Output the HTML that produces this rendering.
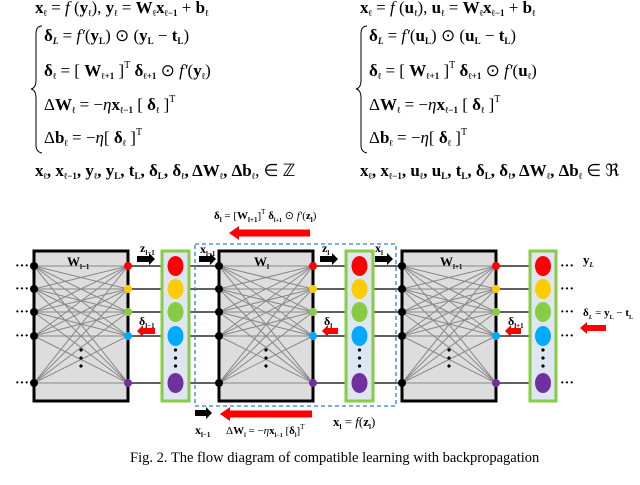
<!DOCTYPE html>
<html><head><meta charset="utf-8"><style>
body{margin:0;background:#fff;width:640px;height:485px;overflow:hidden}
svg{display:block}
text{font-family:"Liberation Serif",serif}
.eq{font-size:17px;font-weight:bold}
.sm{font-size:9px}
</style></head><body>
<svg id="s" width="640" height="485" xmlns="http://www.w3.org/2000/svg">
<g class="eq">
<text x="35" y="13">x<tspan class="sm" dy="3">ℓ</tspan><tspan dy="-3" font-weight="normal"> = <tspan font-style="italic">f</tspan> (</tspan>y<tspan class="sm" dy="3">ℓ</tspan><tspan dy="-3" font-weight="normal">), </tspan>y<tspan class="sm" dy="3">ℓ</tspan><tspan dy="-3" font-weight="normal"> = </tspan>W<tspan class="sm" dy="3">ℓ</tspan><tspan dy="-3">x</tspan><tspan class="sm" dy="3">ℓ−1</tspan><tspan dy="-3" font-weight="normal"> + </tspan>b<tspan class="sm" dy="3">ℓ</tspan></text>
<text x="44" y="41">δ<tspan class="sm" dy="3" font-style="italic">L</tspan><tspan dy="-3" font-weight="normal"> = <tspan font-style="italic">f′</tspan>(</tspan>y<tspan class="sm" dy="3">L</tspan><tspan dy="-3" font-weight="normal">) ⊙ (</tspan>y<tspan class="sm" dy="3">L</tspan><tspan dy="-3" font-weight="normal"> − </tspan>t<tspan class="sm" dy="3">L</tspan><tspan dy="-3" font-weight="normal">)</tspan></text>
<text x="44" y="76">δ<tspan class="sm" dy="3">ℓ</tspan><tspan dy="-3" font-weight="normal"> = [ </tspan>W<tspan class="sm" dy="3">ℓ+1</tspan><tspan dy="-3" font-weight="normal"> ]<tspan font-size="10" dy="-8">T</tspan></tspan><tspan dy="8"> δ</tspan><tspan class="sm" dy="3">ℓ+1</tspan><tspan dy="-3" font-weight="normal"> ⊙ <tspan font-style="italic">f′</tspan>(</tspan>y<tspan class="sm" dy="3">ℓ</tspan><tspan dy="-3" font-weight="normal">)</tspan></text>
<text x="44" y="110"><tspan font-weight="normal">Δ</tspan>W<tspan class="sm" dy="3">ℓ</tspan><tspan dy="-3" font-weight="normal"> = −<tspan font-style="italic">η</tspan></tspan>x<tspan class="sm" dy="3">ℓ−1</tspan><tspan dy="-3" font-weight="normal"> [ </tspan>δ<tspan class="sm" dy="3">ℓ</tspan><tspan dy="-3" font-weight="normal"> ]<tspan font-size="10" dy="-8">T</tspan></tspan></text>
<text x="44" y="143"><tspan font-weight="normal">Δ</tspan>b<tspan class="sm" dy="3">ℓ</tspan><tspan dy="-3" font-weight="normal"> = −<tspan font-style="italic">η</tspan>[ </tspan>δ<tspan class="sm" dy="3">ℓ</tspan><tspan dy="-3" font-weight="normal"> ]<tspan font-size="10" dy="-8">T</tspan></tspan></text>
<text x="35" y="176">x<tspan class="sm" dy="3">ℓ</tspan><tspan dy="-3">, x</tspan><tspan class="sm" dy="3">ℓ−1</tspan><tspan dy="-3">, y</tspan><tspan class="sm" dy="3">ℓ</tspan><tspan dy="-3">, y</tspan><tspan class="sm" dy="3">L</tspan><tspan dy="-3">, t</tspan><tspan class="sm" dy="3">L</tspan><tspan dy="-3">, δ</tspan><tspan class="sm" dy="3">L</tspan><tspan dy="-3">, δ</tspan><tspan class="sm" dy="3">ℓ</tspan><tspan dy="-3">, ΔW</tspan><tspan class="sm" dy="3">ℓ</tspan><tspan dy="-3">, Δb</tspan><tspan class="sm" dy="3">ℓ</tspan><tspan dy="-3" font-weight="normal">, ∈ ℤ</tspan></text>
</g>
<path d="M42 26 Q36 26 36 34 L36 80 Q36 88 31 89 Q36 90 36 98 L36 145 Q36 152 42 153" fill="none" stroke="#000" stroke-width="1"/>
<g class="eq" transform="translate(325,0)">
<text x="35" y="13">x<tspan class="sm" dy="3">ℓ</tspan><tspan dy="-3" font-weight="normal"> = <tspan font-style="italic">f</tspan> (</tspan>u<tspan class="sm" dy="3">ℓ</tspan><tspan dy="-3" font-weight="normal">), </tspan>u<tspan class="sm" dy="3">ℓ</tspan><tspan dy="-3" font-weight="normal"> = </tspan>W<tspan class="sm" dy="3">ℓ</tspan><tspan dy="-3">x</tspan><tspan class="sm" dy="3">ℓ−1</tspan><tspan dy="-3" font-weight="normal"> + </tspan>b<tspan class="sm" dy="3">ℓ</tspan></text>
<text x="44" y="41">δ<tspan class="sm" dy="3" font-style="italic">L</tspan><tspan dy="-3" font-weight="normal"> = <tspan font-style="italic">f′</tspan>(</tspan>u<tspan class="sm" dy="3">L</tspan><tspan dy="-3" font-weight="normal">) ⊙ (</tspan>u<tspan class="sm" dy="3">L</tspan><tspan dy="-3" font-weight="normal"> − </tspan>t<tspan class="sm" dy="3">L</tspan><tspan dy="-3" font-weight="normal">)</tspan></text>
<text x="44" y="76">δ<tspan class="sm" dy="3">ℓ</tspan><tspan dy="-3" font-weight="normal"> = [ </tspan>W<tspan class="sm" dy="3">ℓ+1</tspan><tspan dy="-3" font-weight="normal"> ]<tspan font-size="10" dy="-8">T</tspan></tspan><tspan dy="8"> δ</tspan><tspan class="sm" dy="3">ℓ+1</tspan><tspan dy="-3" font-weight="normal"> ⊙ <tspan font-style="italic">f′</tspan>(</tspan>u<tspan class="sm" dy="3">ℓ</tspan><tspan dy="-3" font-weight="normal">)</tspan></text>
<text x="44" y="110"><tspan font-weight="normal">Δ</tspan>W<tspan class="sm" dy="3">ℓ</tspan><tspan dy="-3" font-weight="normal"> = −<tspan font-style="italic">η</tspan></tspan>x<tspan class="sm" dy="3">ℓ−1</tspan><tspan dy="-3" font-weight="normal"> [ </tspan>δ<tspan class="sm" dy="3">ℓ</tspan><tspan dy="-3" font-weight="normal"> ]<tspan font-size="10" dy="-8">T</tspan></tspan></text>
<text x="44" y="143"><tspan font-weight="normal">Δ</tspan>b<tspan class="sm" dy="3">ℓ</tspan><tspan dy="-3" font-weight="normal"> = −<tspan font-style="italic">η</tspan>[ </tspan>δ<tspan class="sm" dy="3">ℓ</tspan><tspan dy="-3" font-weight="normal"> ]<tspan font-size="10" dy="-8">T</tspan></tspan></text>
<text x="35" y="176">x<tspan class="sm" dy="3">ℓ</tspan><tspan dy="-3">, x</tspan><tspan class="sm" dy="3">ℓ−1</tspan><tspan dy="-3">, u</tspan><tspan class="sm" dy="3">ℓ</tspan><tspan dy="-3">, u</tspan><tspan class="sm" dy="3">L</tspan><tspan dy="-3">, t</tspan><tspan class="sm" dy="3">L</tspan><tspan dy="-3">, δ</tspan><tspan class="sm" dy="3">L</tspan><tspan dy="-3">, δ</tspan><tspan class="sm" dy="3">ℓ</tspan><tspan dy="-3">, ΔW</tspan><tspan class="sm" dy="3">ℓ</tspan><tspan dy="-3">, Δb</tspan><tspan class="sm" dy="3">ℓ</tspan><tspan dy="-3" font-weight="normal"> ∈ ℜ</tspan></text>
</g>
<path d="M367 26 Q361 26 361 34 L361 80 Q361 88 356 89 Q361 90 361 98 L361 145 Q361 152 367 153" fill="none" stroke="#000" stroke-width="1"/>
<g id="net"></g>
<rect x="195" y="244" width="201" height="162" fill="none" stroke="#2e7fd0" stroke-width="1.3" stroke-dasharray="4,3"/>
<g font-weight="bold" font-size="12">
<text x="140" y="252">z<tspan font-size="7" dy="3">l−1</tspan></text>
<text x="200" y="253">x<tspan font-size="7" dy="3">l−1</tspan></text>
<text x="322" y="252">z<tspan font-size="7" dy="3">l</tspan></text>
<text x="375" y="252">x<tspan font-size="7" dy="3">l</tspan></text>
<text x="139" y="325">δ<tspan font-size="7" dy="3">l−1</tspan></text>
<text x="324" y="325">δ<tspan font-size="7" dy="3">l</tspan></text>
<text x="508" y="325">δ<tspan font-size="7" dy="3">l+1</tspan></text>
<text x="67" y="266" font-size="13">W<tspan font-size="7" dy="3">l−1</tspan></text>
<text x="254" y="266" font-size="13">W<tspan font-size="7" dy="3">l</tspan></text>
<text x="440" y="266" font-size="13">W<tspan font-size="7" dy="3">l+1</tspan></text>
<text x="583" y="264" font-size="13">y<tspan font-size="7" dy="3" font-style="italic">L</tspan></text>
<text x="583" y="316" font-size="11">δ<tspan font-size="6" dy="3" font-style="italic">L</tspan><tspan dy="-3" font-weight="normal"> = </tspan>y<tspan font-size="6" dy="3">L</tspan><tspan dy="-3" font-weight="normal"> − </tspan>t<tspan font-size="6" dy="3">L</tspan></text>
<text x="214" y="219" font-size="11">δ<tspan font-size="7" dy="3">l</tspan><tspan dy="-3" font-weight="normal"> = [</tspan>W<tspan font-size="7" dy="3">l+1</tspan><tspan dy="-3" font-weight="normal">]<tspan font-size="7" dy="-5">T</tspan></tspan><tspan dy="5"> δ</tspan><tspan font-size="6" dy="3">l+1</tspan><tspan dy="-3" font-weight="normal"> ⊙ <tspan font-style="italic">f′</tspan>(</tspan>z<tspan font-size="7" dy="3">l</tspan><tspan dy="-3" font-weight="normal">)</tspan></text>
<text x="195" y="434">x<tspan font-size="7" dy="3">l−1</tspan></text>
<text x="226" y="434" font-size="11"><tspan font-weight="normal">Δ</tspan>W<tspan font-size="6" dy="3">l</tspan><tspan dy="-3" font-weight="normal"> = −<tspan font-style="italic">η</tspan></tspan>x<tspan font-size="6" dy="3">l−1</tspan><tspan dy="-3" font-weight="normal"> [</tspan>δ<tspan font-size="6" dy="3">l</tspan><tspan dy="-3" font-weight="normal">]<tspan font-size="7" dy="-5">T</tspan></tspan></text>
<text x="333" y="426" font-size="13">x<tspan font-size="7" dy="3">l</tspan><tspan dy="-3" font-weight="normal"> = <tspan font-style="italic">f</tspan>(</tspan>z<tspan font-size="7" dy="3">l</tspan><tspan dy="-3" font-weight="normal">)</tspan></text>
</g>
<text x="130" y="462" font-size="14.5">Fig. 2. The flow diagram of compatible learning with backpropagation</text>
</svg>
<script>
const NS="http://www.w3.org/2000/svg",g=document.getElementById("net");
function el(t,a){const e=document.createElementNS(NS,t);for(const k in a)e.setAttribute(k,a[k]);g.appendChild(e);return e}
const rows=[266,289,312,336,383],cols=["#f00","#fc0","#8c4","#0af","#7030a0"];
const boxes=[[34,128],[219,313],[402,496]],colsX=[[162,189],[346,373],[530,556]];
rows.forEach(y=>{el("line",{x1:34,y1:y,x2:556,y2:y,stroke:"#000","stroke-width":1.2});});
rows.forEach(y=>{
el("text",{x:15,y:y+4,"font-size":14,"font-weight":"bold"}).textContent="···";
el("text",{x:560,y:y+4,"font-size":14,"font-weight":"bold"}).textContent="···";});
boxes.forEach(([a,b])=>{
 el("rect",{x:a,y:251,width:b-a,height:150,fill:"#ddd",stroke:"#000","stroke-width":3});
 rows.forEach(y1=>rows.forEach(y2=>el("line",{x1:a,y1:y1,x2:b,y2:y2,stroke:"#888","stroke-width":1})));
 rows.forEach((y,i)=>{el("circle",{cx:a,cy:y,r:4,fill:"#000"});el("circle",{cx:b,cy:y,r:4,fill:cols[i]});});
 [350,358,366].forEach(y=>el("circle",{cx:(a+b)/2,cy:y,r:1.6,fill:"#000"}));
});
colsX.forEach(([a,b])=>{
 el("rect",{x:a,y:251,width:b-a,height:150,fill:"#dde6f2",stroke:"#8c4","stroke-width":3});
 rows.forEach((y,i)=>el("ellipse",{cx:(a+b)/2,cy:y,rx:8,ry:10,fill:cols[i]}));
 [350,358,366].forEach(y=>el("circle",{cx:(a+b)/2,cy:y,r:1.6,fill:"#000"}));
});
function arr(x1,x2,y,c,w,h){const d=x2>x1?1:-1,hx=x2-d*h;
 el("path",{d:`M${x1} ${y-w/2}L${hx} ${y-w/2}L${hx} ${y-w}L${x2} ${y}L${hx} ${y+w}L${hx} ${y+w/2}L${x1} ${y+w/2}Z`,fill:c});}
arr(137,155,259,"#000",6,6);arr(199,216,259,"#000",6,6);arr(320,338,259,"#000",6,6);arr(375,393,259,"#000",6,6);
arr(155,137,331,"#f00",6,6);arr(338,322,331,"#f00",6,6);arr(521,505,331,"#f00",6,6);arr(606,580,328,"#f00",6,7);
arr(310,229,233,"#f00",7,10);arr(312,220,414,"#f00",7,10);arr(195,212,413,"#000",6,6);
</script>
</body></html>
